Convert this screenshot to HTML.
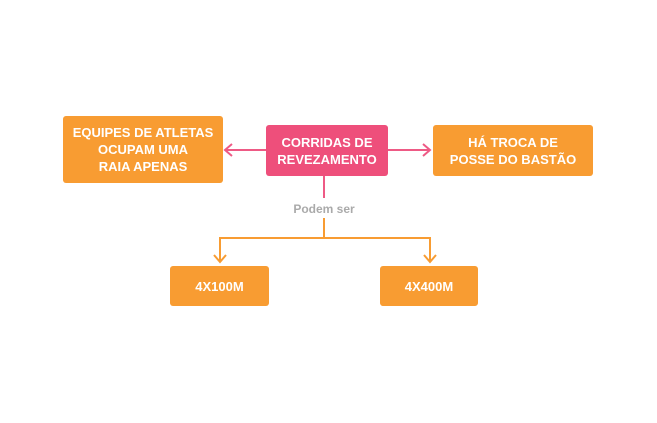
<!DOCTYPE html>
<html><head><style>
body{margin:0;width:657px;height:423px;background:#fff;position:relative;font-family:"Liberation Sans",sans-serif;overflow:hidden}
.b{position:absolute;background:#f89c32;color:#fff;font-weight:bold;font-size:13px;line-height:17px;text-align:center;display:flex;align-items:center;justify-content:center;border-radius:3px}
.p{background:#ee4f7b}
svg{position:absolute;left:0;top:0}
</style></head><body>
<svg width="657" height="423">
<g stroke="#ee5a85" stroke-width="2" fill="none">
<line x1="225" y1="150" x2="266" y2="150"/><polyline points="232,144 225,150 232,156"/>
<line x1="388" y1="150" x2="430" y2="150"/><polyline points="423,144 430,150 423,156"/>
<line x1="324" y1="176" x2="324" y2="198"/>
</g>
<g stroke="#f89c32" stroke-width="2" fill="none">
<line x1="324" y1="218" x2="324" y2="238"/>
<polyline points="220,262 220,238 430,238 430,262"/>
<polyline points="214,255 220,262 226,255"/>
<polyline points="424,255 430,262 436,255"/>
</g>
<text x="324" y="213" text-anchor="middle" font-family="Liberation Sans" font-weight="bold" font-size="12" fill="#aaa">Podem ser</text>
</svg>
<div class="b" style="left:63px;top:116px;width:160px;height:67px">EQUIPES DE ATLETAS<br>OCUPAM UMA<br>RAIA APENAS</div>
<div class="b p" style="left:266px;top:125px;width:122px;height:51px">CORRIDAS DE<br>REVEZAMENTO</div>
<div class="b" style="left:433px;top:125px;width:160px;height:51px">HÁ TROCA DE<br>POSSE DO BASTÃO</div>
<div class="b" style="left:170px;top:266px;width:99px;height:40px">4X100M</div>
<div class="b" style="left:380px;top:266px;width:98px;height:40px">4X400M</div>
</body></html>
